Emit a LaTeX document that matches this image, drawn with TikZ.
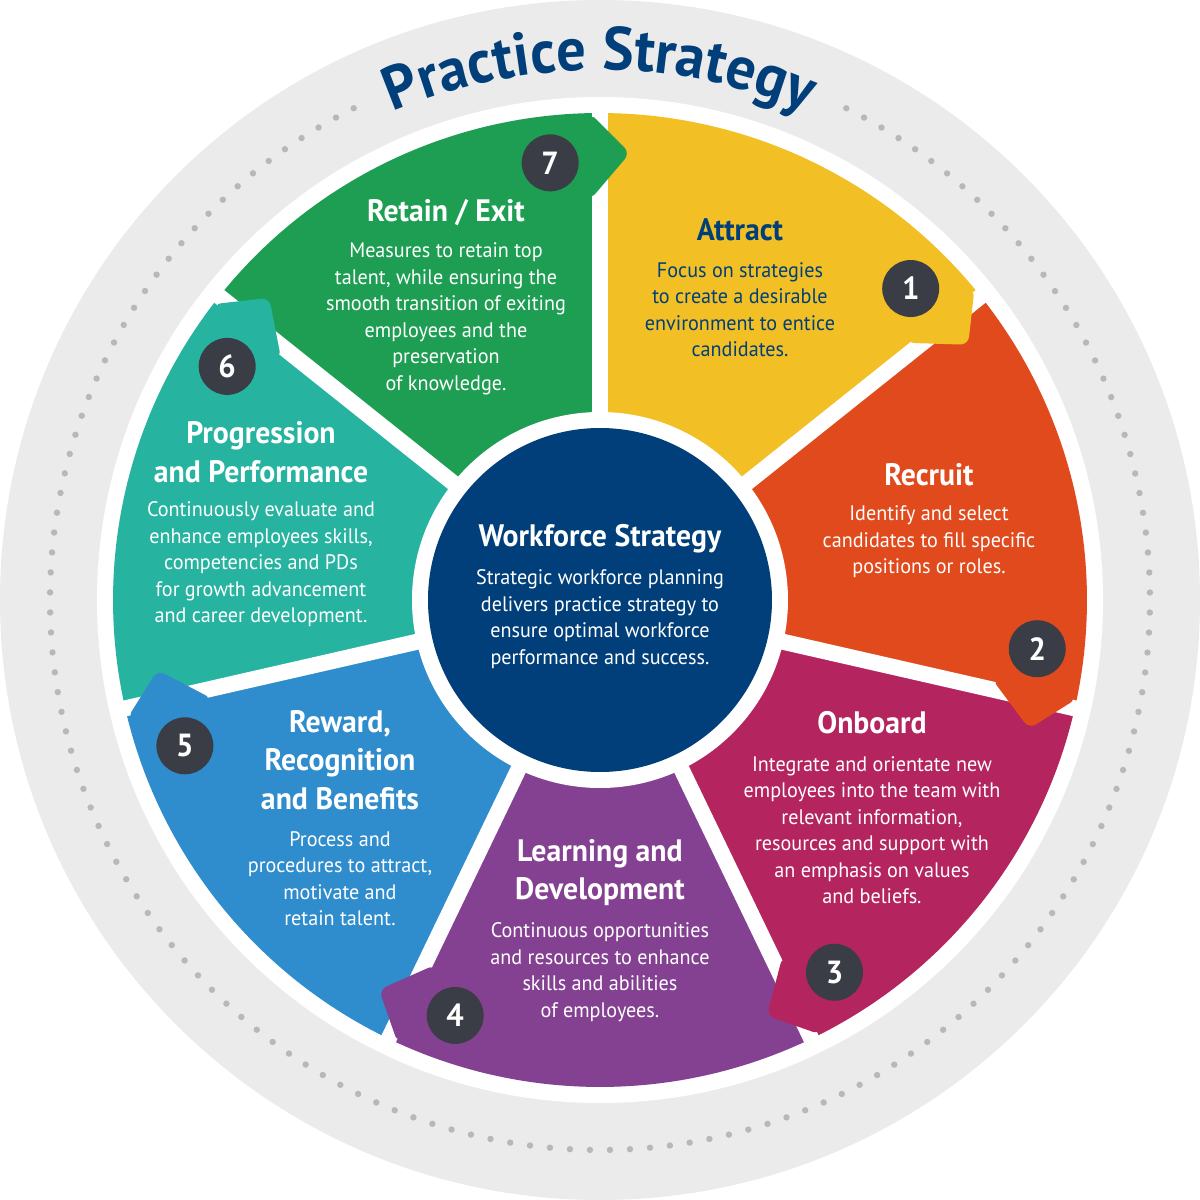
\documentclass[tikz,border=0pt]{standalone}
\usepackage{fontspec}
\setmainfont{PT Sans}[FakeStretch=0.96]
\usetikzlibrary{decorations.text, positioning}
\definecolor{navy}{RGB}{0,63,122}
\definecolor{ringgrey}{RGB}{235,235,235}
\definecolor{dotgrey}{RGB}{183,183,190}
\definecolor{attractc}{RGB}{242,192,36}
\definecolor{recruitc}{RGB}{224,74,28}
\definecolor{onboardc}{RGB}{180,36,94}
\definecolor{learnc}{RGB}{132,65,145}
\definecolor{rewardc}{RGB}{47,140,205}
\definecolor{progressc}{RGB}{38,179,160}
\definecolor{retainc}{RGB}{30,158,82}
\definecolor{badgegrey}{RGB}{58,61,70}
\newcommand{\practicefont}{\fontsize{61}{61}\selectfont\bfseries\color{navy}}

\begin{document}
\begin{tikzpicture}[x=1pt, y=1pt,
  every node/.style={align=center, text=white, inner sep=0pt},
  body/.style={font=\fontsize{21}{26.5}\selectfont},
  head/.style={font=\fontsize{31}{38.5}\selectfont\bfseries},
  badge/.style={circle, fill=badgegrey, minimum size=57, text=white,
                font=\fontsize{32}{32}\selectfont\bfseries}]
  \useasboundingbox (-600,-600) rectangle (600,600);
  \fill[ringgrey] (0,0) circle[radius=600];
  \fill[white] (0,0) circle[radius=503];
  \foreach \k in {0,...,147}
    \fill[dotgrey] (116.6+\k*2.087:550) circle[radius=3.2];
  \path[decorate, decoration={text along path, text align=center,
        text={|\practicefont|Practice Strategy}}]
    (160:530) arc[start angle=160, end angle=20, radius=530];

  % the seven stages
  \foreach \n/\col in {1/attractc, 2/recruitc, 3/onboardc, 4/learnc,
                       5/rewardc, 6/progressc, 7/retainc} {
    \begin{scope}[rotate={90-51.4286*\n}]
      \fill[\col] (0,0) -- (487,0) arc[start angle=0, end angle=51.43, radius=487] -- cycle;
    \end{scope}
  }
  \foreach \n in {1,...,7}
    \draw[white, line width=16] (0,0) -- ({90-51.4286*\n}:500);
  \fill[white] (0,0) circle[radius=188];
  \node[circle, fill=navy, minimum size=344] (hub) at (0,0) {};

  \foreach \n/\col in {1/attractc, 2/recruitc, 3/onboardc, 4/learnc,
                       5/rewardc, 6/progressc, 7/retainc} {
    \begin{scope}[rotate={90-51.4286*\n}]
      \fill[\col, rounded corners=8] (400,10) -- (447,-30) -- (487,10) -- cycle;
      \node[badge] (b\n) at (6.5:440) {\n};
    \end{scope}
  }

  % texts
  \node[head] (hubhead) at (0,61) {Workforce Strategy};
  \node[body] (hubtext) at (0,-19) {Strategic workforce planning\\delivers practice strategy to\\ensure optimal workforce\\performance and success.};

  \node[head, text=navy] (attract) at (140,370) {Attract};
  \node[body, text=navy] (attracttext) at (140,290.5) {Focus on strategies\\to create a desirable\\environment to entice\\candidates.};

  \node[head] (recruit) at (329,125) {Recruit};
  \node[body] (recruittext) at (329,58) {Identify and select\\candidates to fill specific\\positions or roles.};

  \node[head] (onboard) at (272,-123) {Onboard};
  \node[body] (onboardtext) at (272,-230) {Integrate and orientate new\\employees into the team with\\relevant information,\\resources and support with\\an emphasis on values\\and beliefs.};

  \node[head] (learning) at (0,-272.5) {Learning and\\Development};
  \node[body] (learningtext) at (0,-372) {Continuous opportunities\\and resources to enhance\\skills and abilities\\of employees.};

  \node[head] (reward) at (-260,-160) {Reward,\\Recognition\\and Benefits};
  \node[body] (rewardtext) at (-260,-278.5) {Process and\\procedures to attract,\\motivate and\\retain talent.};

  \node[head] (progress) at (-339,148) {Progression\\and Performance};
  \node[body] (progresstext) at (-339,35.6) {Continuously evaluate and\\enhance employees skills,\\competencies and PDs\\for growth advancement\\and career development.};

  \node[head] (retain) at (-154,387) {Retain / Exit};
  \node[body] (retaintext) at (-154,281) {Measures to retain top\\talent, while ensuring the\\smooth transition of exiting\\employees and the\\preservation\\of knowledge.};
\end{tikzpicture}
\end{document}
